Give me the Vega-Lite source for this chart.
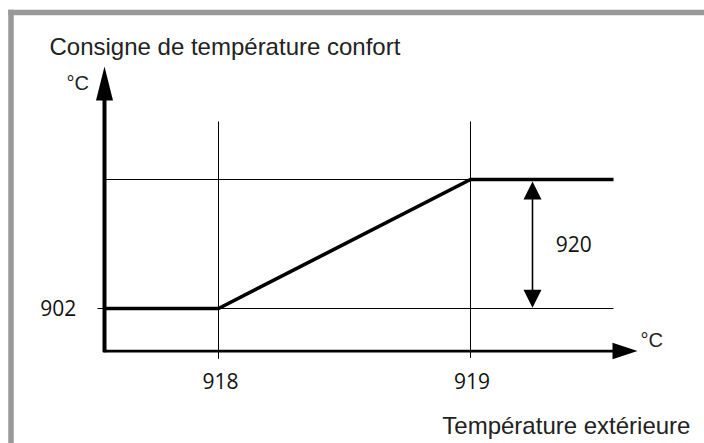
{
  "$schema": "https://vega.github.io/schema/vega-lite/v6.json",
  "width": 704,
  "height": 443,
  "padding": 0,
  "autosize": {"type": "none"},
  "background": "white",
  "config": {"view": {"stroke": null}},
  "encoding": {
    "x": {"field": "x", "type": "quantitative", "axis": null, "scale": {"domain": [-0.916667, 5.258772], "nice": false, "zero": false}},
    "y": {"field": "y", "type": "quantitative", "axis": null, "scale": {"domain": [-2.127907, 8.174419], "nice": false, "zero": false}}
  },
  "layer": [
    {
      "data": {"values": [
        {"x": -0.8202, "y": 7.8837, "x2": 5.4, "y2": 7.8837},
        {"x": -0.8202, "y": 7.8837, "x2": -0.8202, "y2": -2.4}
      ]},
      "mark": {"type": "rule", "color": "#999999", "strokeWidth": 5.5, "strokeCap": "square"},
      "encoding": {"x2": {"field": "x2"}, "y2": {"field": "y2"}}
    },
    {
      "data": {"values": [
        {"x": 1, "y": 5.349, "x2": 1, "y2": -0.17},
        {"x": 3.2105, "y": 5.349, "x2": 3.2105, "y2": -0.15},
        {"x": 0, "y": 4, "x2": 4.456, "y2": 4},
        {"x": -0.0614, "y": 1, "x2": 4.465, "y2": 1}
      ]},
      "mark": {"type": "rule", "color": "#000000", "strokeWidth": 1},
      "encoding": {"x2": {"field": "x2"}, "y2": {"field": "y2"}}
    },
    {
      "data": {"values": [
        {"x": 3.7544, "y": 3.8, "x2": 3.7544, "y2": 1.2}
      ]},
      "mark": {"type": "rule", "color": "#000000", "strokeWidth": 1.6},
      "encoding": {"x2": {"field": "x2"}, "y2": {"field": "y2"}}
    },
    {
      "data": {"values": [
        {"x": 0, "y": -0.02, "x2": 0, "y2": 5.9}
      ]},
      "mark": {"type": "rule", "color": "#000000", "strokeWidth": 4},
      "encoding": {"x2": {"field": "x2"}, "y2": {"field": "y2"}}
    },
    {
      "data": {"values": [
        {"x": -0.01, "y": 0.01, "x2": 4.47, "y2": 0.01}
      ]},
      "mark": {"type": "rule", "color": "#000000", "strokeWidth": 2.7},
      "encoding": {"x2": {"field": "x2"}, "y2": {"field": "y2"}}
    },
    {
      "data": {"values": [
        {"x": 0, "y": 1},
        {"x": 1, "y": 1},
        {"x": 3.2105, "y": 4},
        {"x": 4.465, "y": 4}
      ]},
      "mark": {"type": "line", "color": "#000000", "strokeWidth": 3.6, "strokeJoin": "miter"}
    },
    {
      "data": {"values": [{"x": 0, "y": 6.2326}]},
      "mark": {"type": "point", "shape": "M0,-1L0.5,1L-0.5,1Z", "size": 1156, "filled": true, "opacity": 1, "color": "#000000", "strokeWidth": 0}
    },
    {
      "data": {"values": [{"x": 4.5658, "y": 0.01}]},
      "mark": {"type": "point", "shape": "M1,0L-1,-0.66L-1,0.66Z", "size": 625, "filled": true, "opacity": 1, "color": "#000000", "strokeWidth": 0}
    },
    {
      "data": {"values": [{"x": 3.7544, "y": 3.744}]},
      "mark": {"type": "point", "shape": "M0,-1L1,1L-1,1Z", "size": 324, "filled": true, "opacity": 1, "color": "#000000", "strokeWidth": 0}
    },
    {
      "data": {"values": [{"x": 3.7544, "y": 1.2256}]},
      "mark": {"type": "point", "shape": "M0,1L1,-1L-1,-1Z", "size": 324, "filled": true, "opacity": 1, "color": "#000000", "strokeWidth": 0}
    },
    {
      "data": {"values": [{"x": -0.4825, "y": 6.884, "label": "Consigne de température confort"}]},
      "mark": {"type": "text", "font": "Liberation Sans", "fontSize": 24, "align": "left", "baseline": "alphabetic", "color": "#222222"},
      "encoding": {"text": {"field": "label"}}
    },
    {
      "data": {"values": [{"x": 5.14, "y": -1.907, "label": "Température extérieure"}]},
      "mark": {"type": "text", "font": "Liberation Sans", "fontSize": 24, "align": "right", "baseline": "alphabetic", "color": "#222222"},
      "encoding": {"text": {"field": "label"}}
    },
    {
      "data": {"values": [
        {"x": -0.3333, "y": 6.0698, "label": "°C"},
        {"x": 4.7018, "y": 0.1, "label": "°C"}
      ]},
      "mark": {"type": "text", "font": "Liberation Sans", "fontSize": 20, "align": "left", "baseline": "alphabetic", "color": "#222222"},
      "encoding": {"text": {"field": "label"}}
    },
    {
      "data": {"values": [
        {"x": -0.405, "y": 0.837, "label": "902"},
        {"x": 1.0175, "y": -0.8605, "label": "918"},
        {"x": 3.2237, "y": -0.8605, "label": "919"},
        {"x": 4.117, "y": 2.309, "label": "920"}
      ]},
      "mark": {"type": "text", "font": "Open Sans", "fontSize": 21, "align": "center", "baseline": "alphabetic", "color": "#111111"},
      "encoding": {"text": {"field": "label"}}
    }
  ]
}
